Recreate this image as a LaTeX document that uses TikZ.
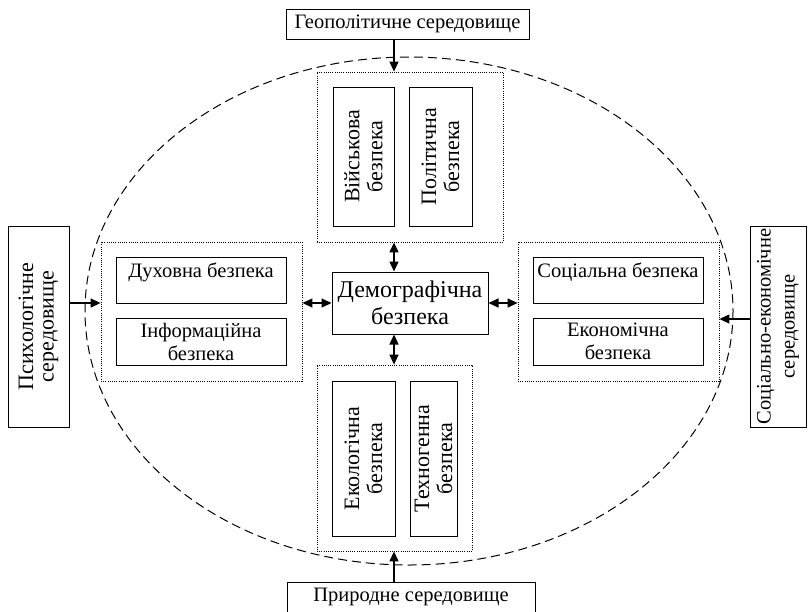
\documentclass[tikz,border=0pt]{standalone}
\usepackage{fontspec}
\setmainfont{Liberation Serif}
\usetikzlibrary{arrows.meta,calc}
\begin{document}
\begin{tikzpicture}[x=1pt,y=-1pt,
  box/.style={draw, line width=1pt, inner sep=0pt, fill=white},
  grp/.style={draw, line width=0.8pt, dash pattern=on 0.9pt off 1.3pt, inner sep=0pt},
  txt/.style={font=\fontsize{20.5}{23}\selectfont, align=center, inner sep=0pt},
  vtxt/.style={font=\fontsize{22}{23}\selectfont, align=center, inner sep=0pt, rotate=90},
  bigtxt/.style={font=\fontsize{24}{27}\selectfont, align=center, inner sep=0pt},
  sarr/.style={line width=1.3pt, -{Triangle[length=10pt,width=9pt]}},
  darr/.style={line width=1.3pt, {Triangle[length=10pt,width=9pt]}-{Triangle[length=10pt,width=9pt]}},
  ell/.style={draw, line width=1pt, dash pattern=on 9pt off 5pt}
]
\clip (0,0) rectangle (808,611);
% ellipse
\draw[ell] (409,311) ellipse [x radius=324, y radius=254];
% outer environments
\node[box, minimum width=243pt, minimum height=30pt, txt] (geo) at (407.5,24) {Геополітичне середовище};
\node[box, minimum width=248pt, minimum height=30pt, txt] (pryr) at (411,597) {Природне середовище};
\node[box, minimum width=61pt, minimum height=201pt] (psy) at (38.5,326.5) {};
\node[vtxt, font=\fontsize{22}{20.5}\selectfont] at (psy) {Психологічне\\середовище};
\node[box, minimum width=56pt, minimum height=201pt] (soce) at (778,326.5) {};
\node[txt, rotate=90, font=\fontsize{20.5}{24}\selectfont] at (soce) {Соціально-економічне\\середовище};
% groups
\node[grp, minimum width=186pt, minimum height=170pt] (tg) at (410,157) {};
\node[grp, minimum width=201pt, minimum height=139pt] (lg) at (201.5,311.5) {};
\node[grp, minimum width=201pt, minimum height=139pt] (rg) at (618.5,311.5) {};
\node[grp, minimum width=155pt, minimum height=186pt] (bg) at (394.5,458) {};
% center
\node[box, minimum width=156pt, minimum height=62pt, bigtxt] (cen) at (410,303) {Демографічна\\безпека};
% top inner
\node[box, minimum width=61pt, minimum height=139pt] (vij) at (363.5,156.5) {};
\node[vtxt] at (vij) {Військова\\безпека};
\node[box, minimum width=63pt, minimum height=139pt] (pol) at (440.5,156.5) {};
\node[vtxt] at (pol) {Політична\\безпека};
% left inner
\node[box, minimum width=170pt, minimum height=46pt] (duh) at (201,280) {};
\node[txt, anchor=base] at ($(duh.north)+(0,21)$) {Духовна безпека};
\node[box, minimum width=170pt, minimum height=47pt, txt] (inf) at (201,341.5) {Інформаційна\\безпека};
% right inner
\node[box, minimum width=170pt, minimum height=46pt] (socb) at (618,280) {};
\node[txt, anchor=base] at ($(socb.north)+(0,21)$) {Соціальна безпека};
\node[box, minimum width=170pt, minimum height=47pt, txt] (ekon) at (618,341.5) {Економічна\\безпека};
% bottom inner
\node[box, minimum width=63pt, minimum height=155pt] (ekol) at (363.5,458.5) {};
\node[vtxt] at (ekol) {Екологічна\\безпека};
\node[box, minimum width=47pt, minimum height=155pt] (tech) at (433.5,458.5) {};
\node[vtxt] at (tech) {Техногенна\\безпека};
% arrows
\coordinate (ax) at (394,0);
\coordinate (ry) at (0,319);
\draw[sarr] (geo.south -| ax) -- (tg.north -| ax);
\draw[sarr] (pryr.north -| ax) -- (bg.south -| ax);
\draw[sarr] (psy.east |- cen.west) -- (lg.west |- cen.west);
\draw[sarr] (soce.west |- ry) -- (rg.east |- ry);
\draw[darr] (tg.south -| ax) -- (cen.north -| ax);
\draw[darr] (bg.north -| ax) -- (cen.south -| ax);
\draw[darr] (lg.east |- cen.west) -- (cen.west);
\draw[darr] (rg.west |- cen.east) -- (cen.east);
\end{tikzpicture}
\end{document}
